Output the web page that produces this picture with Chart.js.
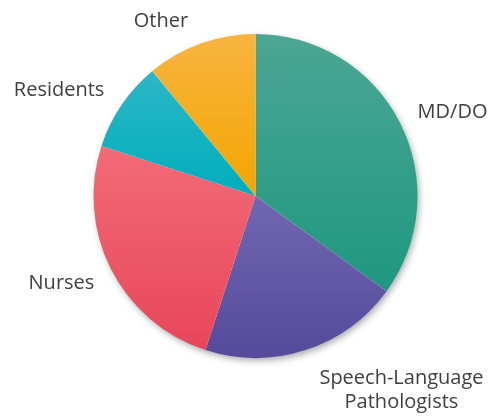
<!DOCTYPE html>
<html>
<head>
<meta charset="utf-8">
<script src="https://cdn.jsdelivr.net/npm/chart.js@4"></script>
<style>
  html, body { margin: 0; padding: 0; background: #ffffff; }
  #wrap { width: 493px; height: 419px; position: relative; }
</style>
</head>
<body>
<div id="wrap"><canvas id="c"></canvas></div>
<script>
// ---- data ----
const categories = ["MD/DO", "Speech-Language Pathologists", "Nurses", "Residents", "Other"];
const labelLines = [["MD/DO"], ["Speech-Language", "Pathologists"], ["Nurses"], ["Residents"], ["Other"]];
const shares = [35, 20, 25, 9, 11];
const topColors = ["#4ca694", "#7067b0", "#f36b78", "#2cb6c6", "#f8b440"];
const bottomColors = ["#1e987f", "#554a9b", "#e8465a", "#00aebc", "#f2a600"];

// label nudges (pixels) relative to generic outside anchor
const labelNudge = [[12.6, 15.9], [82, -9], [-9.6, -1.3], [-25.2, 16], [-24.4, 26]];

const shadowPlugin = {
  id: 'pieShadow',
  beforeDatasetsDraw(chart) {
    const arc = chart.getDatasetMeta(0).data[0];
    if (!arc) return;
    const ctx = chart.ctx;
    ctx.save();
    ctx.shadowColor = 'rgba(0,0,0,0.35)';
    ctx.shadowBlur = 7;
    ctx.shadowOffsetX = 2;
    ctx.shadowOffsetY = 3;
    ctx.fillStyle = '#ffffff';
    ctx.beginPath();
    ctx.arc(arc.x, arc.y, arc.outerRadius - 0.5, 0, Math.PI * 2);
    ctx.fill();
    ctx.restore();
    // per-slice vertical gradients based on each slice's bounding box
    chart.getDatasetMeta(0).data.forEach((el, i) => {
      const s = el.startAngle, e = el.endAngle, r = el.outerRadius;
      let ys = [el.y, el.y + Math.sin(s) * r, el.y + Math.sin(e) * r];
      for (let k = -4; k <= 4; k++) {
        const a = k * Math.PI / 2;
        if (a > s && a < e) ys.push(el.y + Math.sin(a) * r);
      }
      const y0 = Math.min(...ys), y1 = Math.max(...ys);
      const g = ctx.createLinearGradient(0, y0, 0, y1);
      g.addColorStop(0, topColors[i]);
      g.addColorStop(1, bottomColors[i]);
      el.options.backgroundColor = g;
    });
  }
};

const labelPlugin = {
  id: 'outLabels',
  afterDatasetsDraw(chart) {
    const ctx = chart.ctx;
    ctx.save();
    ctx.font = '20px "Open Sans"';
    ctx.fillStyle = '#404040';
    ctx.textAlign = 'center';
    ctx.textBaseline = 'alphabetic';
    chart.getDatasetMeta(0).data.forEach((el, i) => {
      const mid = (el.startAngle + el.endAngle) / 2;
      const R = el.outerRadius + 45;
      const x = el.x + Math.cos(mid) * R + labelNudge[i][0];
      const y = el.y + Math.sin(mid) * R + labelNudge[i][1];
      labelLines[i].forEach((line, j) => ctx.fillText(line, x, y + j * 24));
    });
    ctx.restore();
  }
};

new Chart(document.getElementById('c'), {
  type: 'pie',
  data: {
    labels: categories,
    datasets: [{
      data: shares,
      backgroundColor: bottomColors,
      borderWidth: 0,
      hoverOffset: 0
    }]
  },
  options: {
    responsive: true,
    maintainAspectRatio: false,
    animation: false,
    layout: { padding: { top: 34, bottom: 61, left: 93, right: 75 } },
    plugins: {
      legend: { display: false },
      tooltip: { enabled: false }
    }
  },
  plugins: [shadowPlugin, labelPlugin]
});
</script>
</body>
</html>
